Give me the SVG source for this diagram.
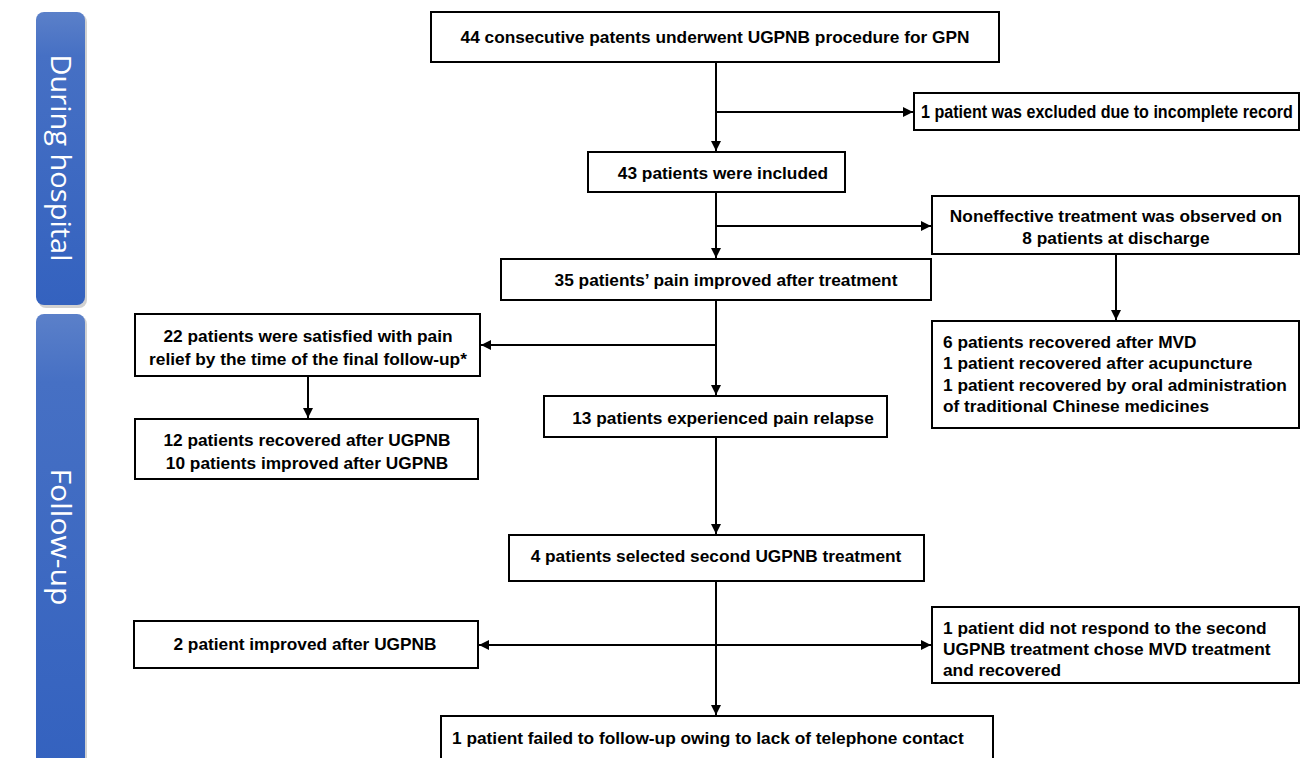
<svg xmlns="http://www.w3.org/2000/svg" width="1301" height="758" viewBox="0 0 1301 758">
<defs>
<linearGradient id="barg" x1="0" y1="0" x2="0" y2="1">
<stop offset="0" stop-color="#5b80c9"/>
<stop offset="0.15" stop-color="#4670c4"/>
<stop offset="1" stop-color="#3462bf"/>
</linearGradient>
<marker id="ah" viewBox="0 0 10 10" refX="10" refY="5" markerWidth="5" markerHeight="5" orient="auto-start-reverse" markerUnits="strokeWidth">
<path d="M0,0 L10,5 L0,10 z" fill="#000"/>
</marker>
</defs>
<style>
.box{fill:#fff;stroke:#000;stroke-width:2}
.t{font-family:"Liberation Sans",Arial,sans-serif;font-weight:bold;font-size:17.3px;fill:#000}
.c{text-anchor:middle}
.bar{fill:url(#barg)}
.sh{fill:#000;opacity:0.18}
.bt{font-family:"Open Sans","Noto Sans",sans-serif;font-size:27px;fill:#fff;text-anchor:middle}
.ln{fill:none;stroke:#000;stroke-width:2}
</style>
<rect width="1301" height="758" fill="#fff"/>
<g id="bar-during">
<rect class="sh" x="38" y="14" width="49" height="294" rx="8"/>
<rect class="bar" x="36" y="12" width="49" height="293" rx="8"/>
<text class="bt" transform="translate(60,158) rotate(90)" dy="9" textLength="207" lengthAdjust="spacingAndGlyphs">During hospital</text>
</g>
<g id="bar-follow">
<rect class="sh" x="38" y="316" width="49" height="450" rx="8"/>
<rect class="bar" x="36" y="314" width="49" height="452" rx="8"/>
<text class="bt" transform="translate(60,537) rotate(90)" dy="9" textLength="137" lengthAdjust="spacingAndGlyphs">Follow-up</text>
</g>
<g id="connectors">
<path class="ln" d="M716,62 V151" marker-end="url(#ah)"/>
<path class="ln" d="M716,112 H913" marker-end="url(#ah)"/>
<path class="ln" d="M716,192 V258" marker-end="url(#ah)"/>
<path class="ln" d="M716,226 H931" marker-end="url(#ah)"/>
<path class="ln" d="M1116,254 V320" marker-end="url(#ah)"/>
<path class="ln" d="M716,300 V395" marker-end="url(#ah)"/>
<path class="ln" d="M716,345 H481" marker-end="url(#ah)"/>
<path class="ln" d="M308,376 V418" marker-end="url(#ah)"/>
<path class="ln" d="M716,437 V534" marker-end="url(#ah)"/>
<path class="ln" d="M716,581 V715" marker-end="url(#ah)"/>
<path class="ln" d="M479,645 H931" marker-start="url(#ah)" marker-end="url(#ah)"/>
</g>
<g id="n1">
<rect class="box" x="431" y="12" width="568" height="50"/>
<text class="t c" x="715" y="43">44 consecutive patents underwent UGPNB procedure for GPN</text>
</g>
<g id="n2">
<rect class="box" x="914" y="93" width="385" height="37"/>
<text class="t" style="font-size:18.5px" transform="translate(921,118) scale(0.87,1)">1 patient was excluded due to incomplete record</text>
</g>
<g id="n3">
<rect class="box" x="588" y="152" width="257" height="40"/>
<text class="t c" x="723" y="179">43 patients were included</text>
</g>
<g id="n4">
<rect class="box" x="932" y="196" width="367" height="58"/>
<text class="t c" x="1116" y="222">Noneffective treatment was observed on</text>
<text class="t c" x="1116" y="244">8 patients at discharge</text>
</g>
<g id="n5">
<rect class="box" x="501" y="259" width="430" height="41"/>
<text class="t c" x="726" y="286">35 patients’ pain improved after treatment</text>
</g>
<g id="n6">
<rect class="box" x="135" y="314" width="345" height="62"/>
<text class="t c" x="308" y="342">22 patients were satisfied with pain</text>
<text class="t c" x="308" y="365">relief by the time of the final follow-up*</text>
</g>
<g id="n7">
<rect class="box" x="932" y="321" width="367" height="107"/>
<text class="t" x="943" y="348">6 patients recovered after MVD</text>
<text class="t" x="943" y="369">1 patient recovered after acupuncture</text>
<text class="t" x="943" y="391">1 patient recovered by oral administration</text>
<text class="t" x="943" y="412">of traditional Chinese medicines</text>
</g>
<g id="n8">
<rect class="box" x="544" y="396" width="343" height="41"/>
<text class="t c" x="723" y="424">13 patients experienced pain relapse</text>
</g>
<g id="n9">
<rect class="box" x="135" y="419" width="343" height="60"/>
<text class="t c" x="307" y="446">12 patients recovered after UGPNB</text>
<text class="t c" x="307" y="469">10 patients improved after UGPNB</text>
</g>
<g id="n10">
<rect class="box" x="509" y="535" width="415" height="46"/>
<text class="t c" x="716" y="562">4 patients selected second UGPNB treatment</text>
</g>
<g id="n11">
<rect class="box" x="134" y="621" width="344" height="47"/>
<text class="t c" x="305" y="650">2 patient improved after UGPNB</text>
</g>
<g id="n12">
<rect class="box" x="932" y="607" width="367" height="76"/>
<text class="t" x="943" y="634">1 patient did not respond to the second</text>
<text class="t" x="943" y="655">UGPNB treatment chose MVD treatment</text>
<text class="t" x="943" y="676">and recovered</text>
</g>
<g id="n13">
<rect class="box" x="441" y="716" width="552" height="50"/>
<text class="t" x="452" y="744">1 patient failed to follow-up owing to lack of telephone contact</text>
</g>
</svg>
